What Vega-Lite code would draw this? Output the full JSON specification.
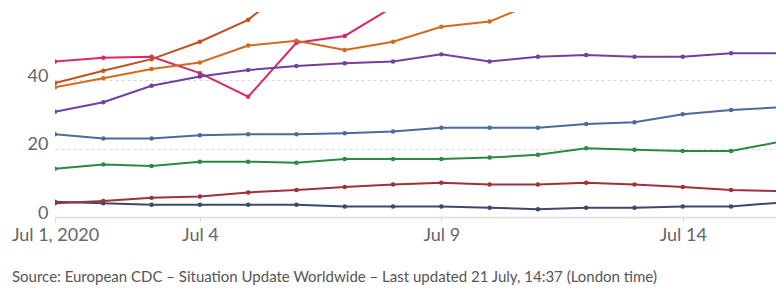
{
  "$schema": "https://vega.github.io/schema/vega-lite/v6.json",
  "width": 721,
  "height": 205,
  "autosize": {"type": "none"},
  "padding": {"left": 55, "top": 12, "right": 0, "bottom": 71},
  "background": "white",
  "config": {"view": {"stroke": null}, "font": "Lato"},
  "title": {
    "text": "Source: European CDC – Situation Update Worldwide – Last updated 21 July, 14:37 (London time)",
    "orient": "bottom", "anchor": "start", "frame": "group",
    "dx": -43, "offset": 26, "fontSize": 15, "font": "Lato", "fontWeight": "normal", "color": "#555555"
  },
  "data": {"values": [
    {"s":"Pink","d":"2020-07-01","v":45.5},{"s":"Pink","d":"2020-07-02","v":46.6},{"s":"Pink","d":"2020-07-03","v":46.9},{"s":"Pink","d":"2020-07-04","v":42.1},{"s":"Pink","d":"2020-07-05","v":35.2},{"s":"Pink","d":"2020-07-06","v":51.0},{"s":"Pink","d":"2020-07-07","v":53.0},{"s":"Pink","d":"2020-07-08","v":61.5},
    {"s":"Brown","d":"2020-07-01","v":39.2},{"s":"Brown","d":"2020-07-02","v":42.8},{"s":"Brown","d":"2020-07-03","v":46.2},{"s":"Brown","d":"2020-07-04","v":51.3},{"s":"Brown","d":"2020-07-05","v":57.7},{"s":"Brown","d":"2020-07-06","v":69.0},
    {"s":"Orange","d":"2020-07-01","v":38.0},{"s":"Orange","d":"2020-07-02","v":40.6},{"s":"Orange","d":"2020-07-03","v":43.3},{"s":"Orange","d":"2020-07-04","v":45.2},{"s":"Orange","d":"2020-07-05","v":50.2},{"s":"Orange","d":"2020-07-06","v":51.6},{"s":"Orange","d":"2020-07-07","v":48.9},{"s":"Orange","d":"2020-07-08","v":51.3},{"s":"Orange","d":"2020-07-09","v":55.7},{"s":"Orange","d":"2020-07-10","v":57.2},{"s":"Orange","d":"2020-07-11","v":63.0},
    {"s":"Purple","d":"2020-07-01","v":30.8},{"s":"Purple","d":"2020-07-02","v":33.6},{"s":"Purple","d":"2020-07-03","v":38.4},{"s":"Purple","d":"2020-07-04","v":41.1},{"s":"Purple","d":"2020-07-05","v":43.0},{"s":"Purple","d":"2020-07-06","v":44.2},{"s":"Purple","d":"2020-07-07","v":45.0},{"s":"Purple","d":"2020-07-08","v":45.5},{"s":"Purple","d":"2020-07-09","v":47.6},{"s":"Purple","d":"2020-07-10","v":45.5},{"s":"Purple","d":"2020-07-11","v":46.9},{"s":"Purple","d":"2020-07-12","v":47.4},{"s":"Purple","d":"2020-07-13","v":46.9},{"s":"Purple","d":"2020-07-14","v":46.9},{"s":"Purple","d":"2020-07-15","v":47.9},{"s":"Purple","d":"2020-07-16","v":47.9},
    {"s":"Blue","d":"2020-07-01","v":24.2},{"s":"Blue","d":"2020-07-02","v":23.0},{"s":"Blue","d":"2020-07-03","v":23.0},{"s":"Blue","d":"2020-07-04","v":23.9},{"s":"Blue","d":"2020-07-05","v":24.2},{"s":"Blue","d":"2020-07-06","v":24.2},{"s":"Blue","d":"2020-07-07","v":24.5},{"s":"Blue","d":"2020-07-08","v":25.0},{"s":"Blue","d":"2020-07-09","v":26.1},{"s":"Blue","d":"2020-07-10","v":26.1},{"s":"Blue","d":"2020-07-11","v":26.1},{"s":"Blue","d":"2020-07-12","v":27.2},{"s":"Blue","d":"2020-07-13","v":27.7},{"s":"Blue","d":"2020-07-14","v":30.1},{"s":"Blue","d":"2020-07-15","v":31.3},{"s":"Blue","d":"2020-07-16","v":32.1},
    {"s":"Green","d":"2020-07-01","v":14.1},{"s":"Green","d":"2020-07-02","v":15.4},{"s":"Green","d":"2020-07-03","v":14.9},{"s":"Green","d":"2020-07-04","v":16.2},{"s":"Green","d":"2020-07-05","v":16.2},{"s":"Green","d":"2020-07-06","v":15.9},{"s":"Green","d":"2020-07-07","v":17.0},{"s":"Green","d":"2020-07-08","v":17.0},{"s":"Green","d":"2020-07-09","v":17.0},{"s":"Green","d":"2020-07-10","v":17.4},{"s":"Green","d":"2020-07-11","v":18.2},{"s":"Green","d":"2020-07-12","v":20.1},{"s":"Green","d":"2020-07-13","v":19.7},{"s":"Green","d":"2020-07-14","v":19.3},{"s":"Green","d":"2020-07-15","v":19.3},{"s":"Green","d":"2020-07-16","v":22.0},
    {"s":"Slate","d":"2020-07-01","v":4.5},{"s":"Slate","d":"2020-07-02","v":4.0},{"s":"Slate","d":"2020-07-03","v":3.6},{"s":"Slate","d":"2020-07-04","v":3.6},{"s":"Slate","d":"2020-07-05","v":3.6},{"s":"Slate","d":"2020-07-06","v":3.6},{"s":"Slate","d":"2020-07-07","v":3.1},{"s":"Slate","d":"2020-07-08","v":3.1},{"s":"Slate","d":"2020-07-09","v":3.1},{"s":"Slate","d":"2020-07-10","v":2.7},{"s":"Slate","d":"2020-07-11","v":2.3},{"s":"Slate","d":"2020-07-12","v":2.7},{"s":"Slate","d":"2020-07-13","v":2.7},{"s":"Slate","d":"2020-07-14","v":3.1},{"s":"Slate","d":"2020-07-15","v":3.1},{"s":"Slate","d":"2020-07-16","v":4.2},
    {"s":"DarkRed","d":"2020-07-01","v":4.0},{"s":"DarkRed","d":"2020-07-02","v":4.7},{"s":"DarkRed","d":"2020-07-03","v":5.6},{"s":"DarkRed","d":"2020-07-04","v":6.0},{"s":"DarkRed","d":"2020-07-05","v":7.2},{"s":"DarkRed","d":"2020-07-06","v":7.9},{"s":"DarkRed","d":"2020-07-07","v":8.8},{"s":"DarkRed","d":"2020-07-08","v":9.5},{"s":"DarkRed","d":"2020-07-09","v":10.0},{"s":"DarkRed","d":"2020-07-10","v":9.5},{"s":"DarkRed","d":"2020-07-11","v":9.5},{"s":"DarkRed","d":"2020-07-12","v":10.0},{"s":"DarkRed","d":"2020-07-13","v":9.5},{"s":"DarkRed","d":"2020-07-14","v":8.8},{"s":"DarkRed","d":"2020-07-15","v":7.9},{"s":"DarkRed","d":"2020-07-16","v":7.6}
  ]},
  "mark": {"type": "line", "strokeWidth": 2, "clip": true, "point": {"filled": true, "size": 20}},
  "encoding": {
    "x": {
      "field": "d", "type": "temporal",
      "scale": {"type": "utc", "domain": [{"year": 2020, "month": 7, "date": 1, "utc": true}, {"year": 2020, "month": 7, "date": 15, "hours": 22, "minutes": 20, "utc": true}]},
      "axis": {
        "title": null, "grid": false,
        "values": [{"year": 2020, "month": 7, "date": 1, "utc": true}, {"year": 2020, "month": 7, "date": 4, "utc": true}, {"year": 2020, "month": 7, "date": 9, "utc": true}, {"year": 2020, "month": 7, "date": 14, "utc": true}],
        "labelExpr": "utcdate(datum.value) == 1 ? 'Jul 1, 2020' : utcFormat(datum.value, '%b %-d')",
        "domainColor": "#dddddd", "domainWidth": 1.5, "tickColor": "#dddddd", "tickSize": 5,
        "labelFont": "Lato", "labelFontSize": 18, "labelColor": "#666666", "labelPadding": 4, "labelFlush": false, "labelOverlap": false
      }
    },
    "y": {
      "field": "v", "type": "quantitative",
      "scale": {"domain": [0, 60], "nice": false},
      "axis": {
        "title": null, "values": [0, 20, 40], "domain": false, "ticks": false,
        "grid": true, "gridDash": [3, 3], "gridColor": "#d8d8d8", "gridWidth": 1,
        "labelFont": "Lato", "labelFontSize": 18, "labelColor": "#666666", "labelPadding": 7, "labelBaseline": "alphabetic", "labelOffset": 1
      }
    },
    "color": {
      "field": "s", "type": "nominal", "legend": null,
      "scale": {
        "domain": ["Pink", "Brown", "Orange", "Purple", "Blue", "Green", "Slate", "DarkRed"],
        "range": ["#d8286e", "#c0501e", "#d06a20", "#7040a0", "#4c6a9c", "#2a8a40", "#3b4a6a", "#a0303a"]
      }
    },
    "order": {"value": 0}
  }
}
